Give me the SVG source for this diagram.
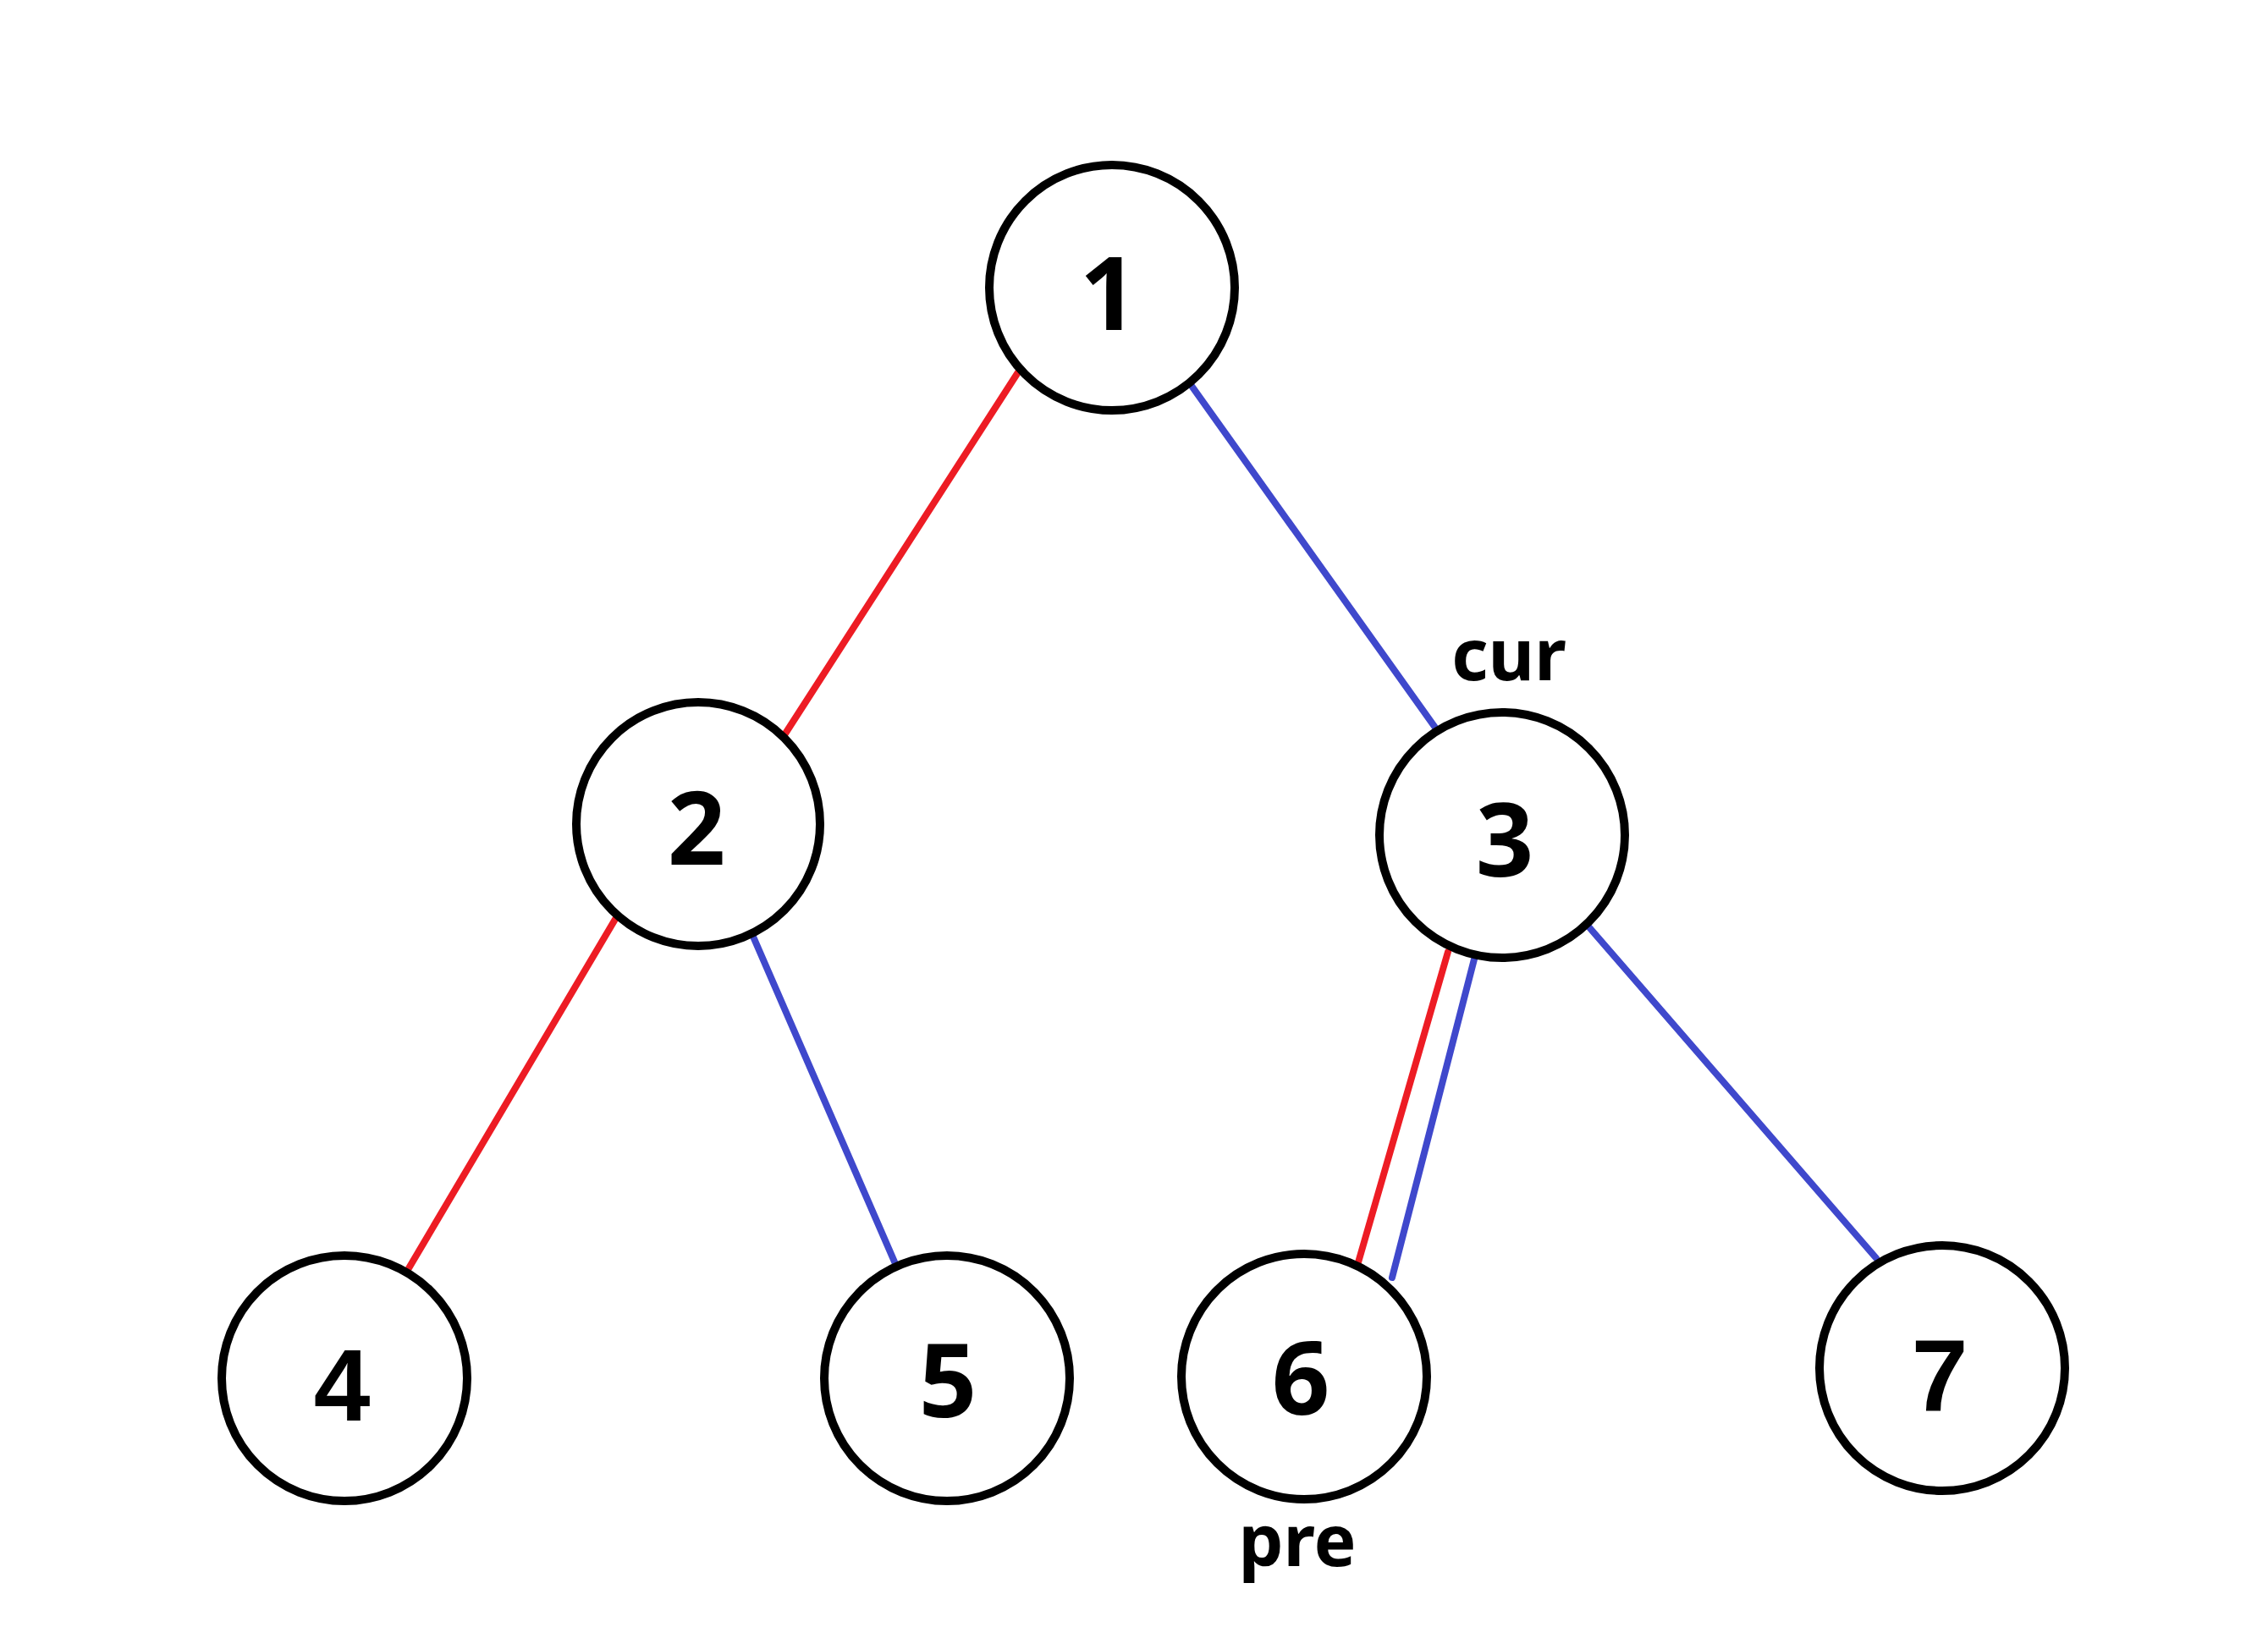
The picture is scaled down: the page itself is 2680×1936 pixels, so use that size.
<svg xmlns="http://www.w3.org/2000/svg" width="2680" height="1936" viewBox="0 0 2680 1936">
<style>
.node{fill:#fff;stroke:#000;stroke-width:10}
.lbl{font-family:"Noto Sans","Open Sans",sans-serif;font-weight:bold;font-size:120px;fill:#000;text-anchor:middle}
.lbl2{font-family:"Liberation Sans",Arial,sans-serif;font-weight:bold;font-size:120px;fill:#000;text-anchor:middle}
.ptr{font-family:"Noto Sans","Open Sans",sans-serif;font-weight:bold;font-size:84px;fill:#000;text-anchor:middle}
.red{stroke:#ED1C24;stroke-width:8;stroke-linecap:round;fill:none}
.blue{stroke:#3F48CC;stroke-width:8;stroke-linecap:round;fill:none}
</style>
<rect width="2680" height="1936" fill="#fff"/>
<g id="connectors">
<line class="red" x1="1203" y1="440" x2="928" y2="867"/>
<line class="blue" x1="1408" y1="456" x2="1696" y2="860"/>
<line class="red" x1="729" y1="1083" x2="483" y2="1499"/>
<line class="blue" x1="890" y1="1107" x2="1059" y2="1496"/>
<line class="red" x1="1711" y1="1125" x2="1605" y2="1492"/>
<line class="blue" x1="1744" y1="1126" x2="1645" y2="1510"/>
<line class="blue" x1="1877" y1="1095" x2="2217" y2="1487"/>
</g>
<g id="node1"><circle class="node" cx="1314" cy="340" r="145"/><text class="lbl" x="1310" y="390">1</text></g>
<g id="node2"><circle class="node" cx="825" cy="974" r="144"/><text class="lbl" x="823" y="1022">2</text></g>
<g id="node3"><circle class="node" cx="1775" cy="987" r="145"/><text class="lbl" x="1778" y="1036">3</text></g>
<g id="node4"><circle class="node" cx="407" cy="1629" r="145"/><text class="lbl2" x="404" y="1679">4</text></g>
<g id="node5"><circle class="node" cx="1119" cy="1629" r="145"/><text class="lbl" x="1120" y="1675">5</text></g>
<g id="node6"><circle class="node" cx="1541" cy="1627" r="145"/><text class="lbl" x="1537" y="1672">6</text></g>
<g id="node7"><circle class="node" cx="2295" cy="1617" r="145"/><text class="lbl2" x="2292" y="1667">7</text></g>
<g id="labels">
<text class="ptr" x="1783" y="804">cur</text>
<text class="ptr" x="1533" y="1851">pre</text>
</g>
</svg>
